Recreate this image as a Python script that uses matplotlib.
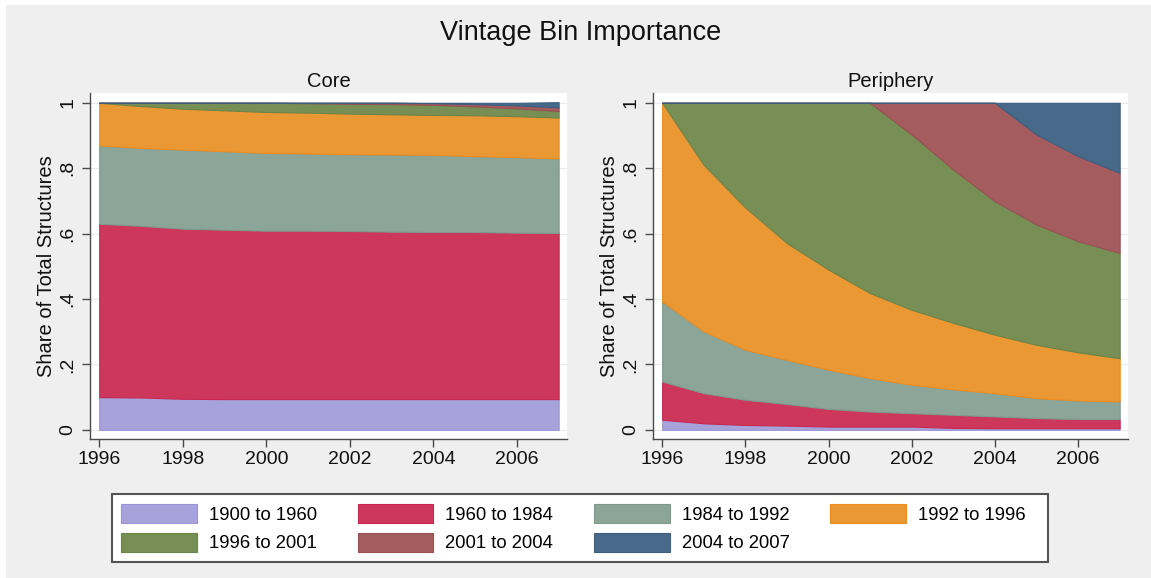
import matplotlib
matplotlib.use("Agg")
import matplotlib.pyplot as plt
from matplotlib.patches import Patch, Rectangle

plt.rcParams['font.family'] = ['Liberation Sans', 'DejaVu Sans']

years = list(range(1996, 2008))

vintage_labels = ["1900 to 1960", "1960 to 1984", "1984 to 1992", "1992 to 1996",
                  "1996 to 2001", "2001 to 2004", "2004 to 2007"]
fill_colors = ["#A7A2DA", "#CE375C", "#8BA599", "#EA9834",
               "#778F55", "#A45C5F", "#476A8B"]
edge_colors = ["#9A94D4", "#C8284F", "#7F9A8D", "#EE8C1E",
               "#6A844A", "#9A4F53", "#3C5F80"]

# Share of total structures by vintage bin, core markets
core_1900_1960 = [0.100, 0.099, 0.095, 0.094, 0.094, 0.094, 0.094, 0.094, 0.094, 0.094, 0.094, 0.094]
core_1960_1984 = [0.530, 0.525, 0.520, 0.518, 0.515, 0.515, 0.514, 0.512, 0.511, 0.511, 0.509, 0.508]
core_1984_1992 = [0.240, 0.238, 0.242, 0.240, 0.238, 0.236, 0.235, 0.236, 0.236, 0.232, 0.231, 0.228]
core_1992_1996 = [0.130, 0.128, 0.125, 0.125, 0.125, 0.125, 0.124, 0.123, 0.122, 0.125, 0.125, 0.125]
core_1996_2001 = [0.000, 0.010, 0.018, 0.023, 0.028, 0.029, 0.030, 0.031, 0.031, 0.027, 0.024, 0.020]
core_2001_2004 = [0.000, 0.000, 0.000, 0.000, 0.000, 0.001, 0.003, 0.004, 0.005, 0.007, 0.009, 0.011]
core_2004_2007 = [0.000, 0.000, 0.000, 0.000, 0.000, 0.000, 0.000, 0.000, 0.001, 0.004, 0.008, 0.016]

# Share of total structures by vintage bin, periphery markets
peri_1900_1960 = [0.031, 0.020, 0.015, 0.013, 0.010, 0.010, 0.010, 0.006, 0.005, 0.005, 0.005, 0.005]
peri_1960_1984 = [0.117, 0.092, 0.077, 0.066, 0.054, 0.046, 0.041, 0.040, 0.036, 0.031, 0.028, 0.028]
peri_1984_1992 = [0.245, 0.189, 0.153, 0.135, 0.120, 0.102, 0.087, 0.078, 0.071, 0.061, 0.057, 0.054]
peri_1992_1996 = [0.607, 0.509, 0.435, 0.357, 0.306, 0.260, 0.229, 0.203, 0.179, 0.163, 0.147, 0.132]
peri_1996_2001 = [0.000, 0.190, 0.320, 0.429, 0.510, 0.582, 0.536, 0.469, 0.408, 0.368, 0.340, 0.322]
peri_2001_2004 = [0.000, 0.000, 0.000, 0.000, 0.000, 0.000, 0.097, 0.204, 0.301, 0.275, 0.260, 0.245]
peri_2004_2007 = [0.000, 0.000, 0.000, 0.000, 0.000, 0.000, 0.000, 0.000, 0.000, 0.097, 0.163, 0.214]

core_series = [core_1900_1960, core_1960_1984, core_1984_1992, core_1992_1996,
               core_1996_2001, core_2001_2004, core_2004_2007]
peri_series = [peri_1900_1960, peri_1960_1984, peri_1984_1992, peri_1992_1996,
               peri_1996_2001, peri_2001_2004, peri_2004_2007]

x_ticks = [1996, 1998, 2000, 2002, 2004, 2006]
y_ticks = [0, 0.2, 0.4, 0.6, 0.8, 1.0]
y_ticklabels = ["0", ".2", ".4", ".6", ".8", "1"]

W, H = 1151, 578
fig = plt.figure(figsize=(W / 100, H / 100), dpi=100)
fig.patch.set_facecolor("white")
# light grey graph region
fig.patches.append(Rectangle((6 / W, 0), 1 - 6 / W, 1 - 5 / H, transform=fig.transFigure,
                             facecolor="#EFEFEF", edgecolor="none", zorder=-10))

fig.text(581 / W, 1 - 33 / H, "Vintage Bin Importance", ha="center", va="center",
         fontsize=19.5, color="#111111")

axis_color = "#4A4A4A"


def draw_panel(rect, series, title):
    ax = fig.add_axes(rect)
    ax.set_facecolor("white")
    polys = ax.stackplot(years, *series, colors=fill_colors, linewidth=0.8, zorder=2)
    for poly, ec in zip(polys, edge_colors):
        poly.set_edgecolor(ec)
    ax.set_xlim(1995.78, 2007.2)
    ax.set_ylim(-0.028, 1.03)
    ax.set_xticks(x_ticks)
    ax.set_yticks(y_ticks)
    ax.set_yticklabels(y_ticklabels, rotation=90, va="center")
    for yv in y_ticks:
        ax.axhline(yv, color="#EAEAEA", linewidth=0.8, zorder=1)
    for side in ("top", "right"):
        ax.spines[side].set_visible(False)
    for side in ("left", "bottom"):
        ax.spines[side].set_color(axis_color)
        ax.spines[side].set_linewidth(1.0)
    ax.tick_params(axis="both", colors=axis_color, length=6, width=1.0,
                   labelsize=14, labelcolor="#111111")
    ax.tick_params(axis="x", pad=3)
    ax.tick_params(axis="y", pad=4)
    ax.set_ylabel("Share of Total Structures", fontsize=14.5, color="#111111", labelpad=2)
    ax.set_title(title, fontsize=14.5, color="#111111", pad=4)
    return ax


draw_panel([90 / W, 1 - 439 / H, 477 / W, 346 / H], core_series, "Core")
draw_panel([653 / W, 1 - 439 / H, 475 / W, 346 / H], peri_series, "Periphery")

# legend box
fig.patches.append(Rectangle((112 / W, 1 - 562 / H), 936 / W, 68 / H, transform=fig.transFigure,
                             facecolor="white", edgecolor="#555555", linewidth=1.5, zorder=1))

# legend entries laid out row by row (matplotlib fills columns first)
order = [0, 4, 1, 5, 2, 6, 3]
handles = [Patch(facecolor=fill_colors[i], edgecolor=edge_colors[i], linewidth=0.8) for i in order]
labels = [vintage_labels[i] for i in order]
leg = fig.legend(handles, labels, ncol=4, loc="upper left",
                 bbox_to_anchor=(121 / W, 1 - 504 / H),
                 fontsize=13.3, frameon=False,
                 handlelength=4.1, handleheight=1.2, handletextpad=0.65,
                 columnspacing=2.2, borderpad=0.0, labelspacing=0.48,
                 borderaxespad=0.0)
leg.set_zorder(2)

fig.savefig("out.png", dpi=100, facecolor=fig.get_facecolor())
